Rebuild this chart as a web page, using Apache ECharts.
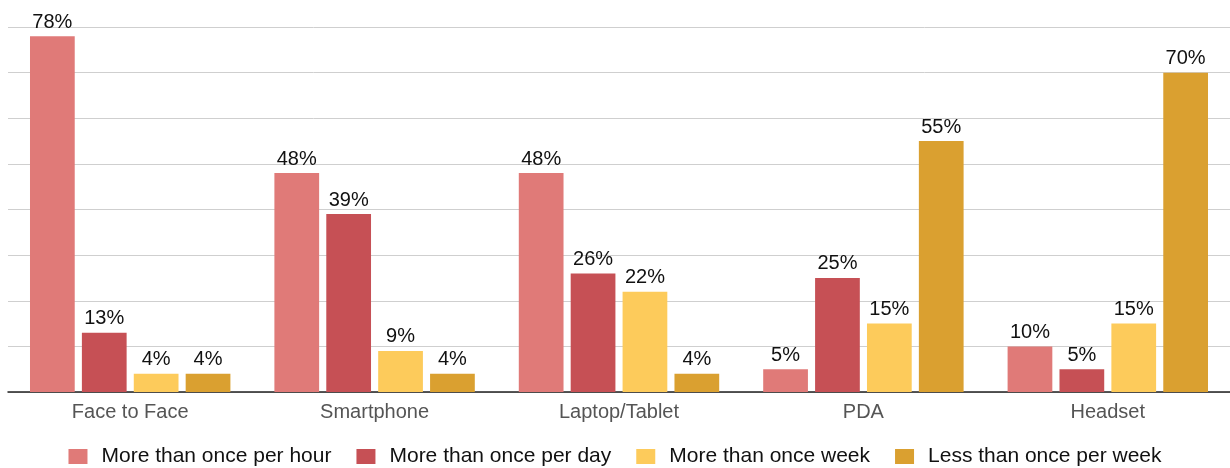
<!DOCTYPE html>
<html>
<head>
<meta charset="utf-8">
<script src="https://cdn.jsdelivr.net/npm/echarts@6/dist/echarts.min.js"></script>
<style>
  html, body { margin: 0; padding: 0; background: #fff; }
  #chart { width: 1230px; height: 468px; }
</style>
</head>
<body>
<div id="chart"></div>
<script>
  // categories and values
  const categories = ['Face to Face', 'Smartphone', 'Laptop/Tablet', 'PDA', 'Headset'];
  const seriesNames = ['More than once per hour', 'More than once per day', 'More than once week', 'Less than once per week'];
  const perHour = [78, 48, 48, 5, 10];
  const perDay = [13, 39, 26, 25, 5];
  const perWeek = [4, 9, 22, 15, 15];
  const lessWeek = [4, 4, 4, 55, 70];
  const colors = ['#e07a78', '#c65055', '#fdcb5b', '#daa030'];

  const chart = echarts.init(document.getElementById('chart'));
  const font = '"Liberation Sans", Arial, Helvetica, sans-serif';

  function makeSeries(name, data, color) {
    return {
      name: name,
      type: 'bar',
      data: data,
      barGap: '16%',
      barCategoryGap: '18%',
      itemStyle: { color: color },
      label: {
        show: true,
        position: 'top',
        distance: 4,
        formatter: '{c}%',
        color: '#111',
        fontSize: 20,
        fontFamily: font
      }
    };
  }

  chart.setOption({
    animation: false,
    textStyle: { fontFamily: font },
    grid: { left: 8, right: 0, top: 27, bottom: 76 },
    legend: {
      bottom: -4,
      left: 'center',
      itemWidth: 19,
      itemHeight: 15,
      itemGap: 25,
      icon: 'rect',
      textStyle: { fontSize: 21, color: '#111', fontFamily: font, padding: [0, 0, 0, 9] }
    },
    xAxis: {
      type: 'category',
      data: categories,
      axisLine: { lineStyle: { color: '#222', width: 1.5 } },
      axisTick: { show: false },
      axisLabel: { fontSize: 20, color: '#555', margin: 10, fontFamily: font }
    },
    yAxis: {
      type: 'value',
      min: 0,
      max: 80,
      interval: 10,
      axisLabel: { show: false },
      axisLine: { show: false },
      axisTick: { show: false },
      splitLine: { lineStyle: { color: '#cfcfcf' } }
    },
    series: [
      makeSeries(seriesNames[0], perHour, colors[0]),
      makeSeries(seriesNames[1], perDay, colors[1]),
      makeSeries(seriesNames[2], perWeek, colors[2]),
      makeSeries(seriesNames[3], lessWeek, colors[3])
    ]
  });
</script>
</body>
</html>
